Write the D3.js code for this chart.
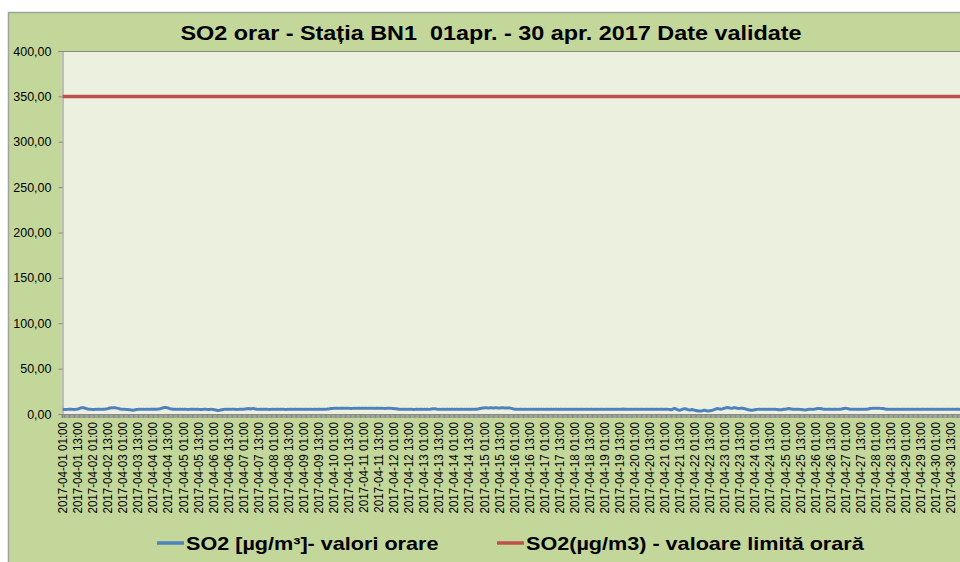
<!DOCTYPE html>
<html>
<head>
<meta charset="utf-8">
<script src="https://cdn.jsdelivr.net/npm/d3@7"></script>
<style>
    body { margin: 0; background: #fff; }
    svg { display: block; font-family: "Liberation Sans", Arial, sans-serif; }
</style>
</head>
<body>
<script>
// hourly SO2 values, one row per day (01:00 .. 00:00 next day)
var so2Values = [
    5.2,5.1,5.0,5.0,5.1,5.2,5.3,5.2,5.1,5.0,5.1,5.2,5.4,5.8,6.4,6.9,7.0,6.8,6.3,5.9,5.5,5.3,5.2,5.1,
    5.0,5.0,5.1,5.1,5.2,5.2,5.1,5.1,5.2,5.3,5.4,5.6,5.9,6.3,6.6,6.9,7.0,7.0,6.8,6.5,6.2,5.9,5.5,5.3,
    5.2,5.1,5.1,5.0,4.9,4.8,4.6,4.3,4.2,4.4,4.8,5.0,5.1,5.1,5.2,5.2,5.1,5.1,5.2,5.2,5.1,5.1,5.2,5.3,
    5.3,5.2,5.2,5.3,5.4,5.6,5.9,6.3,6.8,7.2,7.3,7.0,6.6,6.1,5.7,5.4,5.3,5.2,5.2,5.1,5.1,5.2,5.2,5.1,
    5.1,5.2,5.2,5.1,5.0,5.1,5.2,5.3,5.2,5.1,5.1,5.2,5.2,5.1,5.0,5.0,5.1,5.2,5.2,5.1,5.0,5.0,5.1,5.1,
    5.0,4.8,4.5,4.1,3.8,4.0,4.4,4.8,5.0,5.1,5.1,5.2,5.2,5.1,5.1,5.2,5.2,5.1,5.1,5.0,5.1,5.2,5.2,5.2,
    5.3,5.4,5.6,5.9,6.1,5.8,5.5,5.9,6.2,5.8,5.4,5.2,5.1,5.1,5.2,5.2,5.1,5.1,5.2,5.2,5.1,5.0,5.1,5.2,
    5.2,5.1,5.1,5.2,5.2,5.1,5.1,5.2,5.2,5.1,5.0,5.1,5.1,5.2,5.2,5.1,5.1,5.2,5.2,5.1,5.1,5.2,5.2,5.1,
    5.1,5.2,5.2,5.1,5.1,5.2,5.2,5.1,5.2,5.2,5.1,5.1,5.2,5.2,5.1,5.1,5.2,5.2,5.3,5.4,5.6,5.8,6.0,6.1,
    6.2,6.2,6.3,6.3,6.2,6.2,6.3,6.4,6.3,6.2,6.2,6.3,6.3,6.2,6.1,6.2,6.3,6.3,6.2,6.2,6.3,6.3,6.2,6.2,
    6.2,6.3,6.3,6.2,6.2,6.3,6.4,6.3,6.2,6.2,6.3,6.3,6.2,6.2,6.3,6.3,6.2,6.1,6.2,6.3,6.3,6.2,6.2,6.1,
    6.0,5.9,5.7,5.5,5.3,5.2,5.1,5.1,5.2,5.2,5.1,5.1,5.2,5.2,5.1,5.1,5.0,5.1,5.2,5.2,5.1,5.1,5.2,5.2,
    5.1,5.1,5.2,5.2,5.1,5.2,5.4,5.7,5.9,5.7,5.4,5.2,5.1,5.1,5.2,5.2,5.1,5.1,5.2,5.2,5.1,5.1,5.2,5.2,
    5.1,5.1,5.2,5.2,5.1,5.1,5.2,5.2,5.1,5.1,5.2,5.2,5.1,5.1,5.2,5.2,5.1,5.2,5.3,5.5,5.8,6.1,6.4,6.6,
    6.7,6.8,6.8,6.7,6.7,6.8,6.8,6.7,6.7,6.8,6.8,6.7,6.6,6.7,6.8,6.8,6.7,6.6,6.6,6.7,6.7,6.5,6.2,5.8,
    5.5,5.3,5.2,5.1,5.1,5.2,5.2,5.1,5.1,5.2,5.2,5.1,5.1,5.2,5.2,5.1,5.1,5.2,5.2,5.1,5.1,5.2,5.2,5.1,
    5.1,5.2,5.2,5.1,5.1,5.2,5.2,5.1,5.1,5.2,5.2,5.1,5.1,5.2,5.2,5.1,5.1,5.2,5.2,5.1,5.1,5.2,5.2,5.1,
    5.1,5.2,5.2,5.1,5.1,5.2,5.2,5.1,5.1,5.2,5.2,5.1,5.1,5.2,5.2,5.1,5.1,5.2,5.2,5.1,5.1,5.2,5.2,5.1,
    5.1,5.2,5.2,5.1,5.1,5.2,5.2,5.1,5.1,5.2,5.2,5.1,5.1,5.2,5.3,5.4,5.3,5.2,5.2,5.1,5.1,5.2,5.2,5.1,
    5.1,5.2,5.2,5.1,5.1,5.2,5.2,5.1,5.1,5.2,5.2,5.1,5.1,5.2,5.2,5.1,5.1,5.2,5.2,5.1,5.1,5.2,5.2,5.1,
    5.1,5.2,5.2,5.1,5.0,4.6,5.0,5.8,6.2,5.6,4.8,4.3,4.1,4.5,5.1,5.6,5.9,5.6,5.0,4.6,4.4,4.6,4.9,4.5,
    4.1,3.9,3.6,3.3,3.2,3.3,3.6,4.0,4.1,3.7,3.3,3.2,3.5,3.9,4.2,4.6,5.1,5.6,6.0,5.8,5.4,5.2,5.6,6.1,
    6.5,6.9,7.1,7.0,6.6,6.2,6.3,6.8,7.0,6.6,6.2,6.0,6.2,6.5,6.4,6.1,5.8,5.4,5.0,4.6,4.3,4.1,4.2,4.5,
    4.8,5.0,5.1,5.2,5.2,5.1,5.1,5.2,5.2,5.1,5.1,5.2,5.2,5.1,5.1,5.2,5.2,5.1,5.0,4.8,4.6,4.7,5.0,5.2,
    5.3,5.5,5.8,6.0,5.8,5.5,5.3,5.2,5.1,5.1,5.2,5.2,5.1,5.0,4.8,4.6,4.5,4.7,5.0,5.2,5.2,5.1,5.1,5.2,
    5.4,5.7,6.0,6.2,6.1,5.8,5.5,5.3,5.2,5.1,5.1,5.2,5.2,5.1,5.1,5.2,5.2,5.1,5.1,5.2,5.3,5.5,5.8,6.1,
    6.3,6.2,5.9,5.6,5.3,5.2,5.1,5.1,5.2,5.2,5.1,5.1,5.2,5.2,5.1,5.1,5.2,5.2,5.4,5.7,6.0,6.2,6.3,6.3,
    6.2,6.2,6.3,6.3,6.2,6.1,6.0,5.8,5.5,5.3,5.2,5.1,5.1,5.2,5.2,5.1,5.1,5.2,5.2,5.1,5.1,5.2,5.2,5.1,
    5.1,5.2,5.2,5.1,5.1,5.2,5.2,5.1,5.1,5.2,5.2,5.1,5.1,5.2,5.2,5.1,5.1,5.2,5.2,5.1,5.1,5.2,5.2,5.1,
    5.1,5.2,5.2,5.1,5.1,5.2,5.2,5.1,5.1,5.2,5.2,5.1,5.1,5.2,5.2,5.1,5.1,5.2,5.2,5.1,5.1,5.2,5.2,5.1
];
var so2Limit = 350;
var yTicks = [0, 50, 100, 150, 200, 250, 300, 350, 400];
var seriesNames = ["SO2 [\u00b5g/m\u00b3]- valori orare", "SO2(\u00b5g/m3) - valoare limit\u0103 orar\u0103"];
var chartTitle = "SO2 orar - Sta\u021bia BN1  01apr. - 30 apr. 2017 Date validate";

var W = 960, H = 562,
    margin = {top: 51, left: 62, bottom: 414, right: 965},
    stretch = 1.2;   // the original picture is a bit wider than it was drawn

// categories: hourly timestamps, from 2017-04-01 01:00
var start = new Date(2017, 3, 1, 1, 0);
var hours = so2Values.map(function (v, i) { return d3.timeHour.offset(start, i); });
var fmtHour = d3.timeFormat("%Y-%m-%d %H:%M");
var categories = hours.map(fmtHour);
var labelCats = categories.filter(function (c, i) { return i % 12 === 0; });

var ro = d3.formatLocale({decimal: ",", thousands: ".", grouping: [3], currency: ["", ""]});
var fmt2 = ro.format(".2f");

var x = d3.scaleBand().domain(categories).range([margin.left, margin.right]);
var y = d3.scaleLinear().domain([0, 400]).range([margin.bottom, margin.top]);

var svg = d3.select("body").append("svg")
    .attr("width", W)
    .attr("height", H);

// chart area
svg.append("rect")
    .attr("x", 8.5).attr("y", 12.5)
    .attr("width", W + 40).attr("height", H + 40)
    .attr("fill", "#c4d79b")
    .attr("stroke", "#a0a49a")
    .attr("stroke-width", 1.5);

// plot area
svg.append("rect")
    .attr("x", margin.left).attr("y", margin.top)
    .attr("width", margin.right - margin.left)
    .attr("height", margin.bottom - margin.top)
    .attr("fill", "#ebf1de");
svg.append("line")
    .attr("x1", margin.left - 4).attr("x2", W)
    .attr("y1", margin.top + 0.5).attr("y2", margin.top + 0.5)
    .attr("stroke", "#8a8a8a");

// title
svg.append("text")
    .attr("transform", "translate(491,40) scale(" + stretch + ",1)")
    .attr("text-anchor", "middle")
    .style("white-space", "pre")
    .style("font-size", "19.5px")
    .style("font-weight", "bold")
    .text(chartTitle);

// y axis
var yAxis = d3.axisLeft(y)
    .tickValues(yTicks)
    .tickSize(4)
    .tickPadding(7)
    .tickFormat(fmt2);
var gy = svg.append("g")
    .attr("transform", "translate(" + (margin.left + 0.5) + ",0)")
    .call(yAxis);
gy.selectAll("path, line").attr("stroke", "#8a8a8a");
gy.selectAll("text").style("font-size", "12.5px").attr("fill", "#000");

// x axis: tick marks between every hour
var xTicks = d3.axisBottom(x)
    .tickSize(4)
    .tickFormat("");
var gx = svg.append("g")
    .attr("transform", "translate(0," + margin.bottom + ")")
    .call(xTicks);
gx.selectAll(".tick line").attr("transform", "translate(" + (-x.bandwidth() / 2) + ",0)").attr("stroke", "#8a8a8a");
gx.select(".domain").attr("stroke", "#8a8a8a");

// x labels every 12 hours
var xLabels = d3.axisBottom(x)
    .tickValues(labelCats)
    .tickSize(0);
var gl = svg.append("g")
    .attr("transform", "translate(0," + margin.bottom + ")")
    .call(xLabels);
gl.select(".domain").remove();
gl.selectAll("text")
    .style("font-size", "11.6px")
    .attr("fill", "#000")
    .attr("text-anchor", "end")
    .attr("transform", "rotate(-90) scale(1,1.1)")
    .attr("x", -8)
    .attr("y", 0)
    .attr("dy", "0.35em");

// series
var line = d3.line()
    .x(function (d, i) { return x(categories[i]) + x.bandwidth() / 2; })
    .y(function (d) { return y(d); });

svg.append("path")
    .datum(so2Values)
    .attr("fill", "none")
    .attr("stroke", "#4f81bd")
    .attr("stroke-width", 3)
    .attr("stroke-linejoin", "round")
    .attr("d", line);

svg.append("line")
    .attr("x1", x(categories[0]) + x.bandwidth() / 2)
    .attr("x2", x(categories[categories.length - 1]) + x.bandwidth() / 2)
    .attr("y1", y(so2Limit)).attr("y2", y(so2Limit))
    .attr("stroke", "#c0504d")
    .attr("stroke-width", 3.5);

// legend
var legendX = [157, 497], legendColors = ["#4f81bd", "#c0504d"];
seriesNames.forEach(function (name, i) {
    svg.append("line")
        .attr("x1", legendX[i]).attr("x2", legendX[i] + 27)
        .attr("y1", 543).attr("y2", 543)
        .attr("stroke", legendColors[i])
        .attr("stroke-width", 3.5);
    svg.append("text")
        .attr("transform", "translate(" + (legendX[i] + 29) + ",550) scale(" + stretch + ",1)")
        .style("font-size", "18px")
        .style("font-weight", "bold")
        .text(name);
});
</script>
</body>
</html>
